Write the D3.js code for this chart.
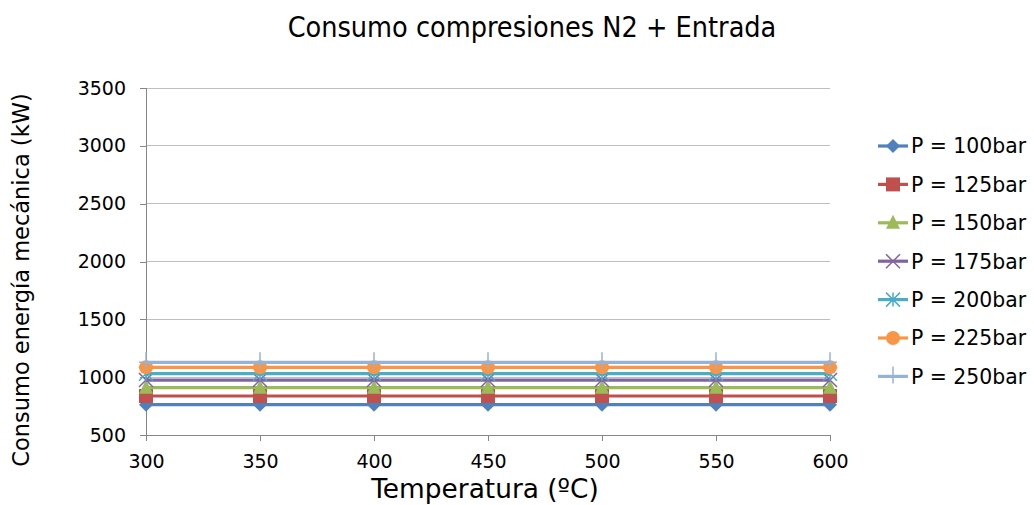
<!DOCTYPE html>
<html><head><meta charset="utf-8">
<script src="https://cdn.jsdelivr.net/npm/d3@7"></script>
<style>body{margin:0;background:#fff}svg{display:block}text{font-family:"DejaVu Sans",Verdana,sans-serif;fill:#000}</style>
</head><body><svg id="c" width="1034" height="505"></svg>
<script>
const temperatures = [300, 350, 400, 450, 500, 550, 600];
const seriesNames = ["P = 100bar","P = 125bar","P = 150bar","P = 175bar","P = 200bar","P = 225bar","P = 250bar"];
const p100 = [762, 762, 762, 762, 762, 762, 762];
const p125 = [837, 837, 837, 837, 837, 837, 837];
const p150 = [909, 909, 909, 909, 909, 909, 909];
const p175 = [975, 975, 975, 975, 975, 975, 975];
const p200 = [1030, 1030, 1030, 1030, 1030, 1030, 1030];
const p225 = [1085, 1085, 1085, 1085, 1085, 1085, 1085];
const p250 = [1128, 1128, 1128, 1128, 1128, 1128, 1128];
const yTicks = [500, 1000, 1500, 2000, 2500, 3000, 3500];
const colors = ["#4F81BD","#C0504D","#9BBB59","#8064A2","#4BACC6","#F79646","#95B3D7"];
const markers = ["diamond","square","triangle","x","asterisk","circle","plus"];
const series = [p100,p125,p150,p175,p200,p225,p250];

const svg = d3.select("#c");
const L=146,R=830,T=88,B=435;
const x = d3.scaleLinear().domain([300,600]).range([L,R]);
const y = d3.scaleLinear().domain([500,3500]).range([B,T]);

svg.append("g").selectAll("line").data(yTicks).join("line")
  .attr("x1",L).attr("x2",R).attr("y1",d=>y(d)).attr("y2",d=>y(d))
  .attr("stroke","#BFBFBF").attr("stroke-width",1).attr("shape-rendering","crispEdges");

const yAxis = svg.append("g").attr("transform",`translate(${L},0)`)
  .call(d3.axisLeft(y).tickValues(yTicks).tickSize(6).tickPadding(14).tickFormat(d3.format("d")));
const xAxis = svg.append("g").attr("transform",`translate(0,${B})`)
  .call(d3.axisBottom(x).tickValues(temperatures).tickSize(6).tickPadding(14).tickFormat(d3.format("d")));
[yAxis,xAxis].forEach(a=>{
  a.select(".domain").attr("stroke","#868686").attr("shape-rendering","crispEdges");
  a.selectAll(".tick line").attr("stroke","#868686").attr("shape-rendering","crispEdges");
  a.selectAll(".tick text").attr("font-size",19).attr("font-family","DejaVu Sans").attr("fill","#000");
});

function marker(g, type, color, cx, cy){
  const s=7;
  if(type==="diamond") g.append("path").attr("d",`M${cx},${cy-s}L${cx+s},${cy}L${cx},${cy+s}L${cx-s},${cy}Z`).attr("fill",color);
  else if(type==="square") g.append("rect").attr("x",cx-s).attr("y",cy-s).attr("width",2*s).attr("height",2*s).attr("fill",color);
  else if(type==="triangle") g.append("path").attr("d",`M${cx},${cy-s-1}L${cx+s},${cy+s-1}L${cx-s},${cy+s-1}Z`).attr("fill",color);
  else if(type==="circle") g.append("circle").attr("cx",cx).attr("cy",cy).attr("r",s).attr("fill",color);
  else if(type==="x") g.append("path").attr("d",`M${cx-s},${cy-s}L${cx+s},${cy+s}M${cx+s},${cy-s}L${cx-s},${cy+s}`).attr("stroke",color).attr("stroke-width",1.5);
  else if(type==="asterisk") g.append("path").attr("d",`M${cx-s},${cy-s}L${cx+s},${cy+s}M${cx+s},${cy-s}L${cx-s},${cy+s}M${cx},${cy-s}L${cx},${cy+s}`).attr("stroke",color).attr("stroke-width",1.5);
  else if(type==="plus") g.append("path").attr("d",`M${cx-s},${cy}L${cx+s},${cy}M${cx},${cy-s-3}L${cx},${cy+s}`).attr("stroke",color).attr("stroke-width",1.5);
}

const line = d3.line().x((d,i)=>x(temperatures[i])).y(d=>y(d));
series.forEach((vals,k)=>{
  const g = svg.append("g");
  g.append("path").datum(vals).attr("d",line).attr("fill","none").attr("stroke",colors[k]).attr("stroke-width",3.2);
  vals.forEach((v,i)=>marker(g,markers[k],colors[k],x(temperatures[i]),y(v)));
});

const lg = svg.append("g");
seriesNames.forEach((n,k)=>{
  const cy = 146 + k*38.4;
  lg.append("line").attr("x1",878).attr("x2",908).attr("y1",cy).attr("y2",cy).attr("stroke",colors[k]).attr("stroke-width",3.2);
  marker(lg,markers[k],colors[k],893,cy);
  lg.append("text").attr("x",911).attr("y",cy).attr("dy","0.36em").attr("font-size",20.4).text(n);
});

svg.append("text").attr("x",532).attr("y",37).attr("text-anchor","middle").attr("font-size",28.5)
  .attr("font-family","DejaVu Sans Condensed").attr("font-stretch","condensed").text("Consumo compresiones N2 + Entrada");
svg.append("text").attr("x",485).attr("y",498).attr("text-anchor","middle").attr("font-size",26.4).text("Temperatura (ºC)");
svg.append("text").attr("transform","translate(29,280) rotate(-90)").attr("text-anchor","middle").attr("font-size",22.5).text("Consumo energía mecánica (kW)");
</script></body></html>
